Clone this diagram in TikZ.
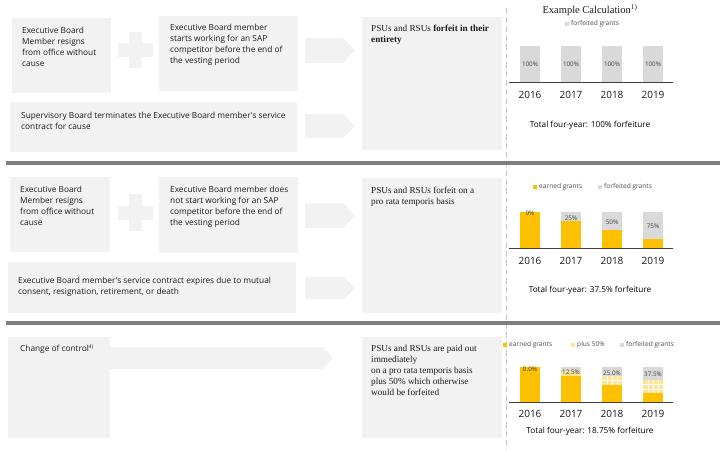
\documentclass[tikz,border=0pt]{standalone}
\usepackage{fontspec}
\setmainfont{Liberation Serif}
\newfontfamily\boxfont{Open Sans}
\definecolor{boxgray}{HTML}{F2F2F2}
\definecolor{divgray}{HTML}{7F7F7F}
\definecolor{dashgray}{HTML}{C8C8C8}
\definecolor{bargray}{HTML}{D9D9D9}
\definecolor{baryellow}{RGB}{255,192,0}
\definecolor{barlight}{RGB}{255,228,150}
\definecolor{axisgray}{HTML}{404040}
\definecolor{txt}{HTML}{1A1A1A}
\begin{document}
\begin{tikzpicture}[x=1pt,y=-1pt,
  panel/.style={fill=boxgray,draw=none,inner sep=0pt,anchor=north west},
  btext/.style={font=\boxfont\fontsize{8.3}{11}\selectfont,text=txt,align=left,inner sep=0pt,anchor=north west},
  rtext/.style={font=\fontsize{9.2}{11}\selectfont,text=txt,align=left,inner sep=0pt,anchor=north west},
  arrowfill/.style={fill=boxgray,draw=none},
  year/.style={font=\boxfont\fontsize{10}{12}\selectfont,text=txt,inner sep=0pt},
  total/.style={font=\boxfont\fontsize{8.2}{10}\selectfont,text=black,inner sep=0pt},
  legend/.style={font=\boxfont\fontsize{6.6}{8}\selectfont,text=black!70,inner sep=0pt,anchor=west},
  pct/.style={font=\boxfont\fontsize{6.3}{7}\selectfont,text=black!75,inner sep=0pt},
  divider/.style={draw=divgray,line width=4pt},
  axis/.style={draw=axisgray,line width=1pt}
]
\useasboundingbox (0,0) rectangle (720,450);
\fill[white] (0,0) rectangle (720,450);

% dashed separator
\draw[dashgray,line width=1pt,dash pattern=on 6pt off 3pt] (506,8) -- (506,450);

% dividers
\draw[divider] (6,162.5) -- (720,162.5);
\draw[divider] (6,323) -- (720,323);

% ===== Section 1 =====
\node[panel,minimum width=99pt,minimum height=75pt] (a1) at (12,18) {};
\node[btext] (a1t) at (22,27) {Executive Board\\Member resigns\\from office without\\cause};
\fill[boxgray] (129,32) rectangle (142,68);
\fill[boxgray] (118,43) rectangle (153,57);
\node[panel,minimum width=139pt,minimum height=75pt] (b1) at (159,16) {};
\node[btext] (b1t) at (170,24) {Executive Board member\\starts working for an SAP\\competitor before the end of\\the vesting period};
\fill[arrowfill] (305,38) -- (343,38) -- (355,50.5) -- (343,63) -- (305,63) -- cycle;
\node[panel,minimum width=287pt,minimum height=50pt] (c1) at (10,102) {};
\node[btext] (c1t) at (21,112) {Supervisory Board terminates the Executive Board member's service\\contract for cause};
\fill[arrowfill] (305,114) -- (343,114) -- (355,126) -- (343,138) -- (305,138) -- cycle;
\node[panel,minimum width=140pt,minimum height=133pt] (r1) at (362,17) {};
\node[rtext] (r1t) at (371,25) {PSUs and RSUs \textbf{forfeit in their}\\\textbf{entirety}};

\node[font=\fontsize{10.5}{12}\selectfont,text=txt,inner sep=0pt] (title) at (590,10) {Example Calculation\textsuperscript{1)}};
\fill[bargray] (565,22) rectangle (569,26);
\node[legend] (lg1) at (571,24) {forfeited grants};

\foreach \x/\n in {530/1,571/2,612/3,653/4}{
  \fill[bargray] (\x-10,46) rectangle (\x+10,82);
  \node[pct] (p1\n) at (\x,64) {100\%};
}
\draw[axis] (509,82) -- (673,82);
\node[year] (y11) at (530,95) {2016};
\node[year] (y12) at (571,95) {2017};
\node[year] (y13) at (612,95) {2018};
\node[year] (y14) at (653,95) {2019};
\node[total] (t1) at (590,125) {Total four-year: 100\% forfeiture};

% ===== Section 2 =====
\node[panel,minimum width=100pt,minimum height=75pt] (a2) at (10,177) {};
\node[btext] (a2t) at (20,186) {Executive Board\\Member resigns\\from office without\\cause};
\fill[boxgray] (129,194) rectangle (142,231);
\fill[boxgray] (118,206) rectangle (153,220);
\node[panel,minimum width=139pt,minimum height=76pt] (b2) at (159,177) {};
\node[btext] (b2t) at (170,186) {Executive Board member does\\not start working for an SAP\\competitor before the end of\\the vesting period};
\fill[arrowfill] (305,203) -- (343,203) -- (355,215.5) -- (343,228) -- (305,228) -- cycle;
\node[panel,minimum width=288pt,minimum height=51pt] (c2) at (8,262) {};
\node[btext] (c2t) at (18,277) {Executive Board member's service contract expires due to mutual\\consent, resignation, retirement, or death};
\fill[arrowfill] (305,277) -- (344,277) -- (355,288) -- (344,299) -- (305,299) -- cycle;
\node[panel,minimum width=140pt,minimum height=135pt] (r2) at (362,178) {};
\node[rtext] (r2t) at (371,187) {PSUs and RSUs forfeit on a\\pro rata temporis basis};

\fill[baryellow] (533,185) rectangle (537,189);
\node[legend] (lg2a) at (539,187) {earned grants};
\fill[bargray] (598,185) rectangle (602,189);
\node[legend] (lg2b) at (604,187) {forfeited grants};

\fill[baryellow] (520,212) rectangle (540,248);
\fill[bargray] (561,212) rectangle (581,221);
\fill[baryellow] (561,221) rectangle (581,248);
\fill[bargray] (602,212) rectangle (622,230);
\fill[baryellow] (602,230) rectangle (622,248);
\fill[bargray] (643,212) rectangle (663,239);
\fill[baryellow] (643,239) rectangle (663,248);
\node[pct] (p21) at (530,213) {0\%};
\node[pct] (p22) at (571,218) {25\%};
\node[pct] (p23) at (612,222) {50\%};
\node[pct] (p24) at (653,226) {75\%};
\draw[axis] (509,248) -- (673,248);
\node[year] (y21) at (530,261) {2016};
\node[year] (y22) at (571,261) {2017};
\node[year] (y23) at (612,261) {2018};
\node[year] (y24) at (653,261) {2019};
\node[total] (t2) at (590,290) {Total four-year: 37.5\% forfeiture};

% ===== Section 3 =====
\node[panel,minimum width=102pt,minimum height=101pt] (a3) at (8,337) {};
\node[btext] (a3t) at (20,345) {Change of control\textsuperscript{\tiny 4)}};
\fill[arrowfill] (110,347) -- (323,347) -- (333,358) -- (323,369) -- (110,369) -- cycle;
\node[panel,minimum width=140pt,minimum height=101pt] (r3) at (362,337) {};
\node[rtext] (r3t) at (371,345) {PSUs and RSUs are paid out\\immediately\\on a pro rata temporis basis\\plus 50\% which otherwise\\would be forfeited};

\fill[baryellow] (503,343) rectangle (507,347);
\node[legend] (lg3a) at (509,345) {earned grants};
\fill[barlight] (571,343) rectangle (575,347);
\node[legend] (lg3b) at (577,345) {plus 50\%};
\fill[bargray] (620,343) rectangle (624,347);
\node[legend] (lg3c) at (626,345) {forfeited grants};

\fill[baryellow] (520,367) rectangle (540,402);
\fill[bargray] (561,367) rectangle (581,371.4);
\fill[barlight] (561,371.4) rectangle (581,375.75);
\fill[baryellow] (561,375.75) rectangle (581,402);
\fill[bargray] (602,367) rectangle (622,375.75);
\fill[barlight] (602,375.75) rectangle (622,384.5);
\fill[baryellow] (602,384.5) rectangle (622,402);
\fill[bargray] (643,367) rectangle (663,380.1);
\fill[barlight] (643,380.1) rectangle (663,393.25);
\fill[baryellow] (643,393.25) rectangle (663,402);
% grid texture on plus-50% parts
\foreach \xa in {607,612,617}{\draw[white,line width=0.4pt] (\xa,375.75) -- (\xa,384.5);}
\draw[white,line width=0.4pt] (602,380) -- (622,380);
\foreach \xa in {648,653,658}{\draw[white,line width=0.4pt] (\xa,380.1) -- (\xa,393.25);}
\draw[white,line width=0.4pt] (643,384.5) -- (663,384.5);
\draw[white,line width=0.4pt] (643,389) -- (663,389);
\node[pct] (p31) at (530,369) {0.0\%};
\node[pct] (p32) at (571,372) {12.5\%};
\node[pct] (p33) at (612,373) {25.0\%};
\node[pct] (p34) at (653,374) {37.5\%};
\draw[axis] (509,402) -- (673,402);
\node[year] (y31) at (530,414) {2016};
\node[year] (y32) at (571,414) {2017};
\node[year] (y33) at (612,414) {2018};
\node[year] (y34) at (653,414) {2019};
\node[total] (t3) at (590,431) {Total four-year: 18.75\% forfeiture};
\end{tikzpicture}
\end{document}
